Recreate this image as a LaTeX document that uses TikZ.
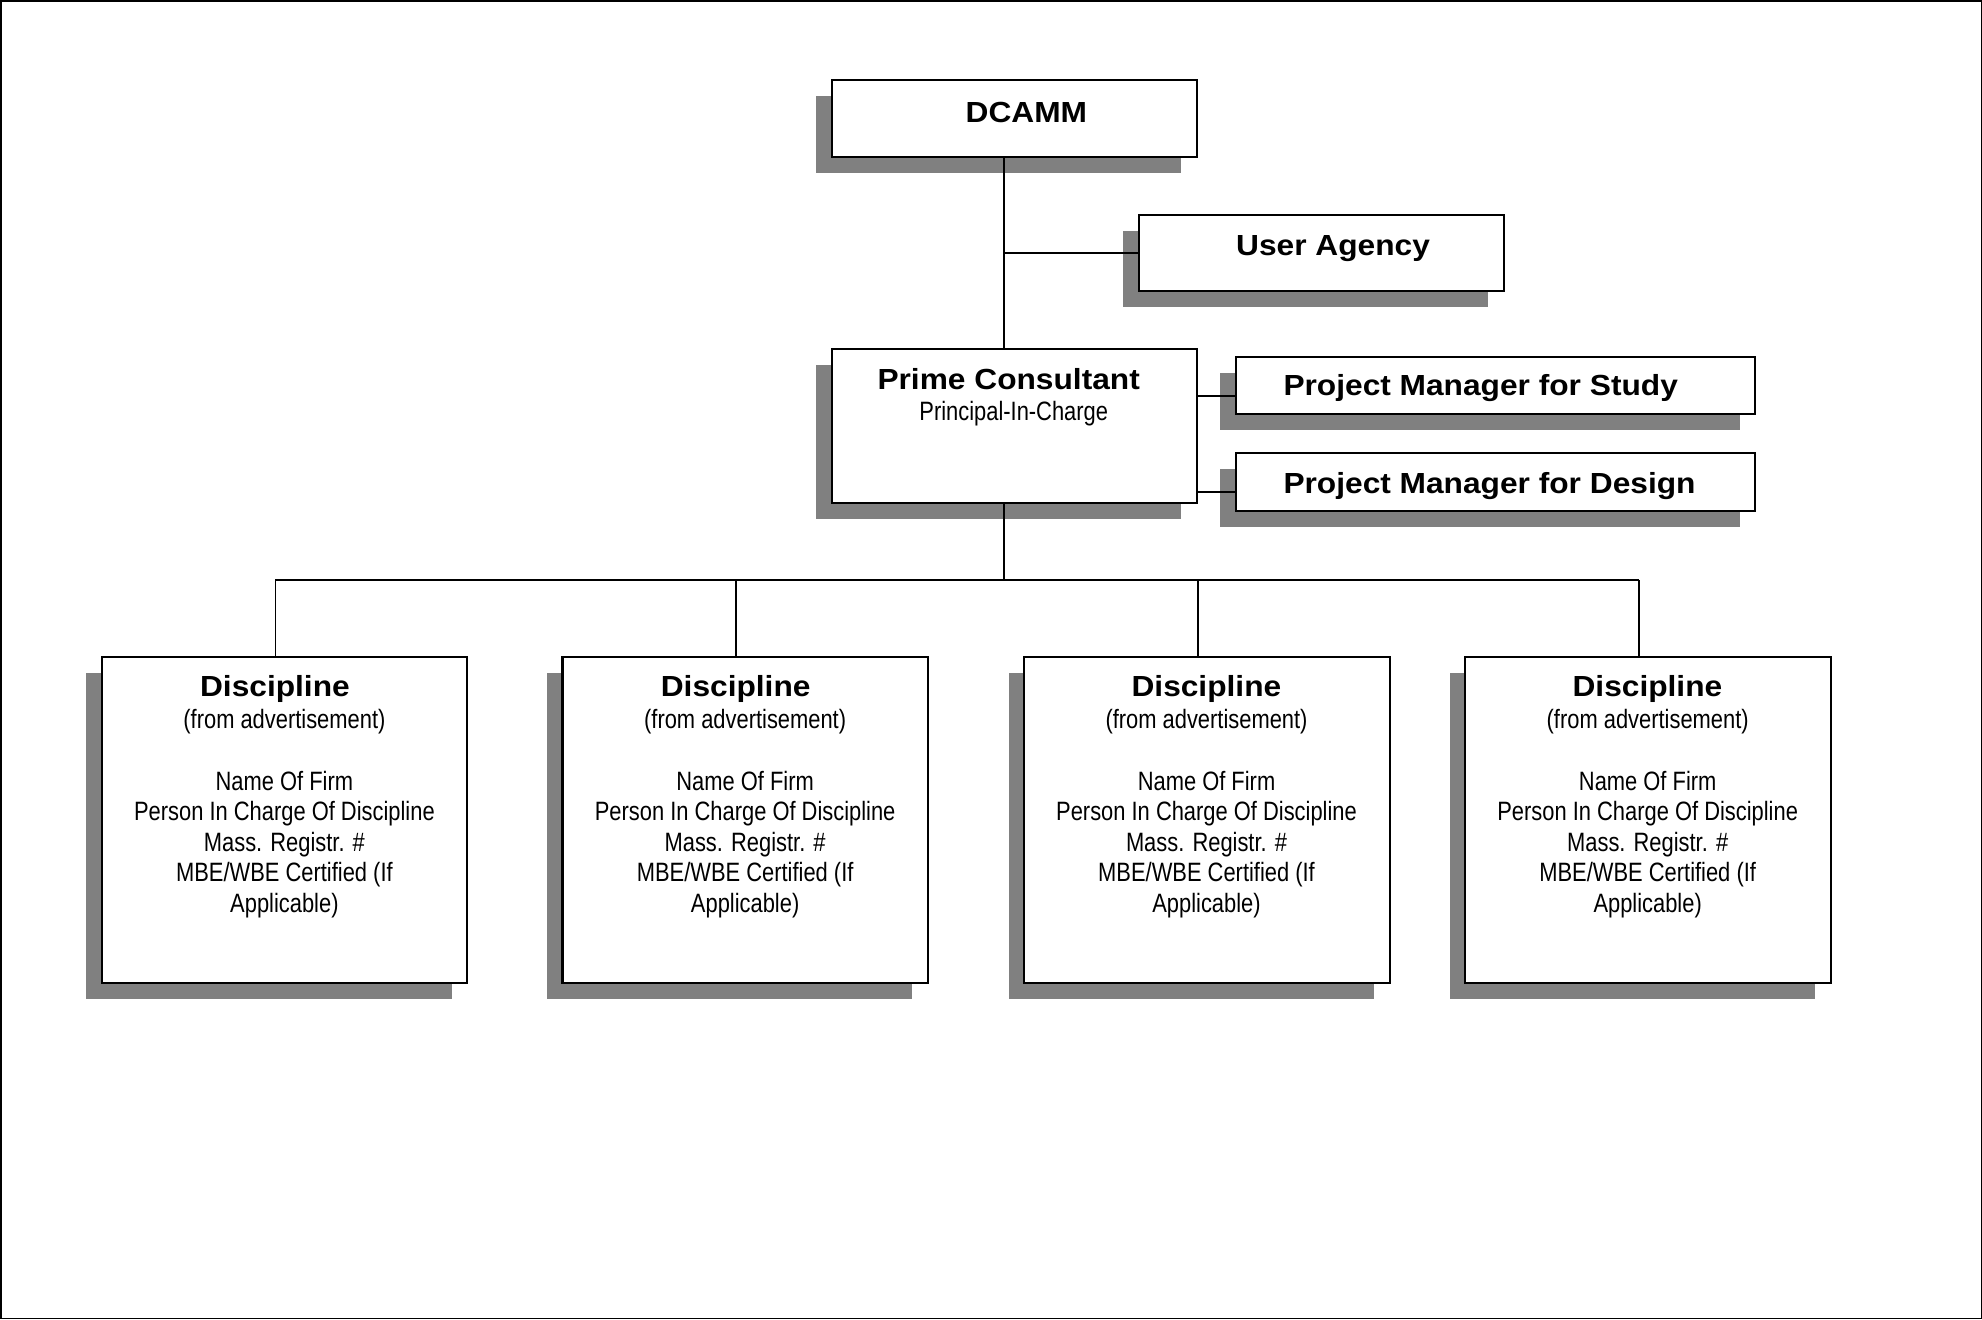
\documentclass[tikz,border=0pt]{standalone}
\usepackage{fontspec}
\setmainfont{Liberation Sans}
\newfontfamily\titlefam[FakeStretch=1.09]{Liberation Sans Bold}
\newfontfamily\subfam[FakeStretch=0.825]{Liberation Sans}
\usetikzlibrary{shadows}
\definecolor{shadegray}{RGB}{128,128,128}
\newcommand\blocklines[1]{\vtop{\baselineskip=12.1pt\lineskiplimit=-100pt\halign{\hfil##\hfil\cr#1\crcr}}}
\begin{document}
\begin{tikzpicture}[x=0.5pt,y=-0.5pt,
  box/.style={draw=black,line width=0.8pt,fill=white,inner sep=0pt,outer sep=0pt,anchor=north west,
     general shadow={fill=shadegray,shadow xshift=-6.2pt,shadow yshift=-6.3pt}},
  conn/.style={draw=black,line width=0.7pt},
  ttl/.style={font=\titlefam\fontsize{11.5pt}{13pt}\selectfont,inner sep=0pt,anchor=base},
  sub/.style={font=\subfam\fontsize{10.5pt}{12.1pt}\selectfont,inner sep=0pt,anchor=base}]
\useasboundingbox (0,0) rectangle (1568,1043.5);
\draw[line width=0.6pt] (0.6,0.6) rectangle (1567.4,1042.9);

% boxes
\node[box,minimum width=144.3pt,minimum height=30.5pt] (dcamm) at (658,63.5) {};
\node[box,minimum width=144.3pt,minimum height=30pt] (user) at (901,170) {};
\node[box,minimum width=144.3pt,minimum height=60.7pt] (prime) at (658,276.4) {};
\node[box,minimum width=205.6pt,minimum height=22.6pt] (pms) at (977.5,282.7) {};
\node[box,minimum width=205.6pt,minimum height=22.8pt] (pmd) at (977.5,358.6) {};
\foreach \n/\x in {1/80.6, 2/445, 3/810.4, 4/1159.3}
  \node[box,minimum width=144.5pt,minimum height=129pt] (d\n) at (\x,519.5) {};

% texts
\node[ttl] (tdcamm) at (812,97) {DCAMM};
\node[ttl] (tuser) at (1054.6,202.5) {User Agency};
\node[ttl] (tprime) at (798,308.5) {Prime Consultant};
\node[sub] (tpic) at (802,333) {Principal-In-Charge};
\node[ttl,anchor=base west] (tpms) at (1015,312.5) {Project Manager for Study};
\node[ttl,anchor=base west] (tpmd) at (1015,390.3) {Project Manager for Design};
\foreach \n/\tx/\bx in {1/217.5/225, 2/582/589.5, 3/954.4/954.5, 4/1303.3/1303.5}{
  \node[ttl] (dt\n) at (\tx,551.2) {Discipline};
  \node[sub] (db\n) at (\bx,576.7) {\blocklines{(from advertisement)\cr\cr Name Of Firm\cr Person In Charge Of Discipline\cr Mass. Registr. \#\cr MBE/WBE Certified (If\cr Applicable)}};
}

% connectors
\coordinate (tx) at (794.5,0);
\coordinate (ys) at (0,313.3);
\coordinate (yd) at (0,389);
\coordinate (bus) at (0,459);
\draw[conn] (dcamm.south -| tx) -- (prime.north -| tx);
\draw[conn] (user.west -| tx) -- (user.west);
\draw[conn] (prime.east |- ys) -- (pms.west |- ys);
\draw[conn] (prime.east |- yd) -- (pmd.west |- yd);
\draw[conn] (prime.south -| tx) -- (tx |- bus);
\foreach \n in {1,...,4}{
  \coordinate (k\n) at ([xshift=-3.6pt]d\n.north);
  \draw[conn] (k\n |- bus) -- (k\n);
}
\draw[conn] (k1 |- bus) -- (k4 |- bus);
\end{tikzpicture}
\end{document}
